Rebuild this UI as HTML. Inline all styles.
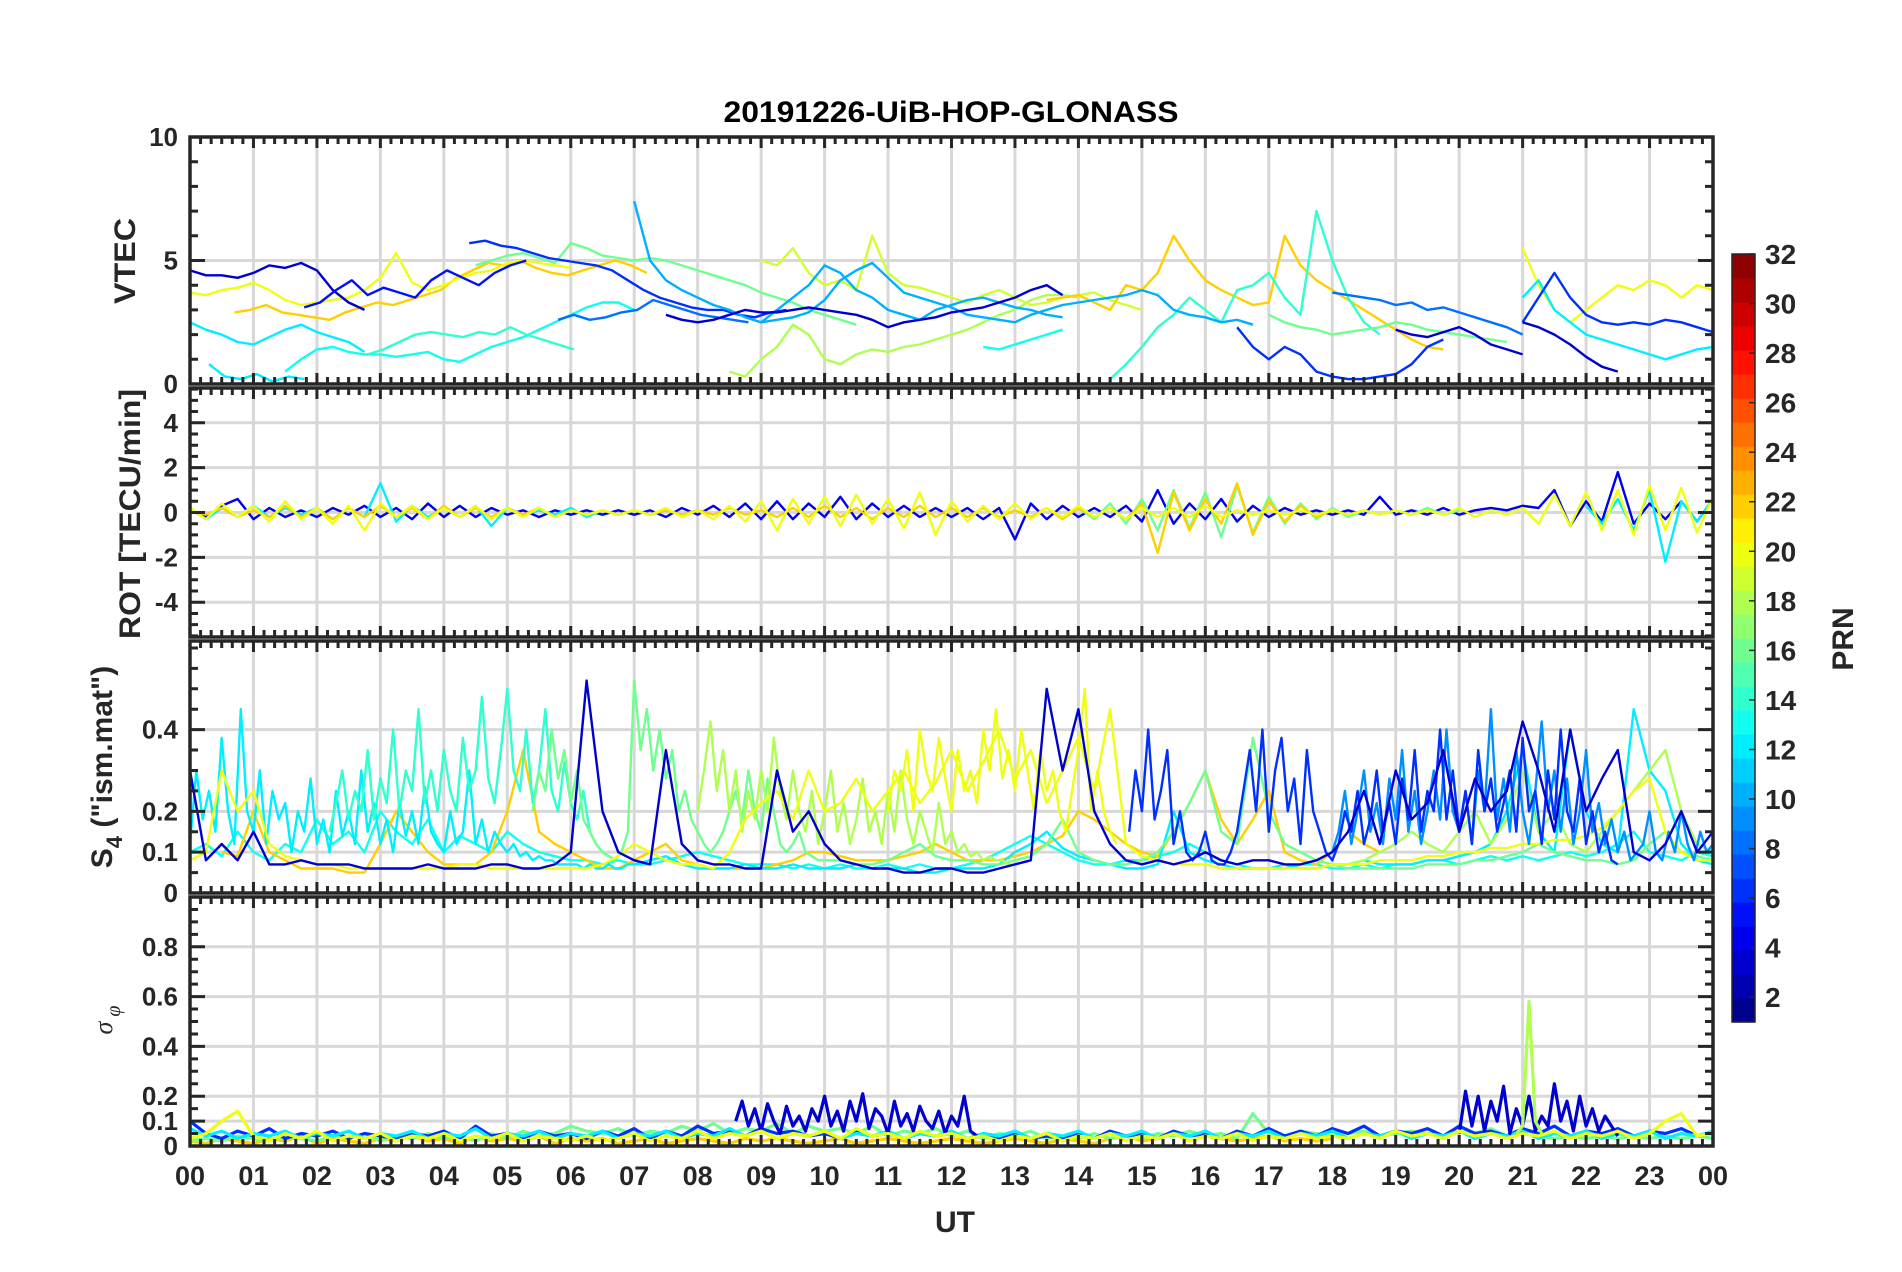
<!DOCTYPE html>
<html><head><meta charset="utf-8"><style>
html,body{margin:0;padding:0;background:#fff;}
svg{display:block;font-family:"Liberation Sans",Arial,sans-serif;}
</style></head><body>
<svg id="fig" width="1902" height="1272" viewBox="0 0 1902 1272" xmlns="http://www.w3.org/2000/svg">
<rect width="1902" height="1272" fill="#fff"/>
<text x="951" y="122" text-anchor="middle" font-size="30" font-weight="bold" fill="#000" textLength="455" lengthAdjust="spacingAndGlyphs">20191226-UiB-HOP-GLONASS</text>
<g id="grid"></g><g id="data"></g><g id="frames"></g><g id="labels"></g>
<text transform="translate(135,261) rotate(-90)" text-anchor="middle" font-size="30" font-weight="bold" fill="#262626" textLength="86" lengthAdjust="spacingAndGlyphs">VTEC</text>
<text transform="translate(140,514) rotate(-90)" text-anchor="middle" font-size="30" font-weight="bold" fill="#262626" textLength="250" lengthAdjust="spacingAndGlyphs">ROT [TECU/min]</text>
<text transform="translate(112,767) rotate(-90)" text-anchor="middle" font-size="30" font-weight="bold" fill="#262626">S<tspan font-size="22" dy="10">4</tspan><tspan dy="-10"> ("ism.mat")</tspan></text>
<text transform="translate(112,1020) rotate(-90)" text-anchor="middle" font-size="26" font-style="italic" fill="#262626" font-family="'Liberation Serif',serif">σ<tspan font-size="20" dy="8"> φ</tspan></text>
<text x="955" y="1232" text-anchor="middle" font-size="30" font-weight="bold" fill="#262626">UT</text>
<g id="cbar"></g>
<text transform="translate(1853,639) rotate(-90)" text-anchor="middle" font-size="30" font-weight="bold" fill="#262626">PRN</text>
</svg>
<script>
// ---------- data ----------
const hourTicks=[0,1,2,3,4,5,6,7,8,9,10,11,12,13,14,15,16,17,18,19,20,21,22,23,24];
const hourLabels=["00","01","02","03","04","05","06","07","08","09","10","11","12","13","14","15","16","17","18","19","20","21","22","23","00"];
const vtecTicks=[0,5,10];
const rotTicks=[-4,-2,0,2,4];
const s4Ticks=[0,0.1,0.2,0.4];
const sigTicks=[0,0.1,0.2,0.4,0.6,0.8];
const cbarTicks=[2,4,6,8,10,12,14,16,18,20,22,24,26,28,30,32];

// VTEC segments (step 0.25 h)
const vtecP3a=[4.6,4.4,4.4,4.3,4.5,4.8,4.7,4.9,4.6,3.8,3.3,3.0];
const vtecP5a=[3.1,3.3,3.8,4.2,3.6,3.9,3.7,3.5,4.2,4.6,4.3,4.0,4.5,4.8,5.0];
const vtecP6a=[5.7,5.8,5.6,5.5,5.3,5.1,5.0,4.9,4.8,4.6,4.2,3.8,3.5,3.3,3.1,3.0,3.0,2.8,2.7,2.9,3.0];
const vtecP3b=[2.8,2.6,2.5,2.6,2.8,3.0,2.9,2.9,3.0,3.1,3.0,2.9,2.8,2.6,2.3,2.5,2.6,2.7,2.9,3.0,3.1,3.3,3.5,3.8,4.0,3.6];
const vtecP10a=[7.4,5.0,4.2,3.8,3.5,3.2,3.0,2.7,2.5,2.6,2.7,2.9,3.4,4.2,4.6,4.9,4.3,3.7,3.5,3.3,3.1,2.8,2.7,2.6,2.5,2.8,3.0,3.2,3.3,3.4,3.5,3.6,3.8,3.6,3.0,2.8,2.7,2.5,2.6,2.4];
const vtecP8a=[2.6,2.8,2.6,2.7,2.9,3.0,3.4,3.2,3.0,2.8,2.7,2.6,2.5];
const vtecP12a=[2.5,2.2,2.0,1.7,1.6,1.9,2.2,2.4,2.1,1.9,1.7,1.3];
const vtecP12b=[0.8,0.3,0.2,0.4,0.1,0.3,0.2];
const vtecP13a=[0.5,1.0,1.4,1.5,1.3,1.2,1.2,1.1,1.2,1.3,1.0,0.9,1.2,1.5,1.7,1.9,2.2,2.5,2.8,3.1,3.3,3.3,3.0];
const vtecP14a=[1.2,1.4,1.7,2.0,2.1,2.0,1.9,2.1,2.0,2.3,2.0,1.8,1.6,1.4];
const vtecP16a=[4.8,5.0,5.2,5.3,5.1,4.9,5.7,5.5,5.2,5.1,5.0,5.1,5.0,4.8,4.6,4.4,4.2,4.0,3.7,3.5,3.3,3.0,2.8,2.6,2.4];
const vtecP18a=[0.5,0.3,1.0,1.5,2.4,2.0,1.0,0.8,1.2,1.4,1.3,1.5,1.6,1.8,2.0,2.2,2.5,2.8,3.0,3.4,3.6,3.6,3.5];
const vtecP20a=[3.7,3.6,3.8,3.9,4.1,3.8,3.4,3.2,3.3,3.4,3.5,3.8,4.3,5.3,4.1,3.8,4.0,4.3,4.5,4.6,4.9,5.0,4.9,4.8,4.7];
const vtecP22a=[2.9,3.0,3.2,2.9,2.8,2.7,2.6,2.9,3.1,3.3,3.2,3.4,3.6,3.8,4.3,4.6,4.9,4.8,5.0,4.7,4.5,4.4,4.6,4.8,5.0,4.8,4.5];
const vtecP19a=[5.0,4.8,5.5,4.5,4.0,4.2,3.8,6.0,4.5,4.0,3.9,3.7,3.5,3.3,3.6,3.8,3.5,3.2,3.3,3.5,3.6,3.7,3.4,3.2,3.0];
const vtecP22b=[3.4,3.5,3.6,3.3,3.0,4.0,3.8,4.5,6.0,5.0,4.2,3.8,3.5,3.2,3.3,6.0,4.8,4.2,3.8,3.4,3.0,2.6,2.2,1.8,1.5,1.4];
const vtecP14b=[0.2,0.8,1.5,2.3,2.8,3.5,3.0,2.5,3.8,4.0,4.5,3.5,2.8,7.0,5.0,3.5,2.5,2.0];
const vtecP6b=[2.3,1.5,1.0,1.5,1.2,0.5,0.3,0.2,0.2,0.3,0.4,0.8,1.5,1.8];
const vtecP8b=[3.7,3.6,3.5,3.4,3.2,3.3,3.0,3.1,2.9,2.7,2.5,2.3,2.0];
const vtecP16b=[2.8,2.5,2.3,2.2,2.0,2.1,2.2,2.3,2.5,2.4,2.2,2.1,2.0,1.9,1.8,1.7];
const vtecP20b=[5.5,4.0,3.0,2.5,3.0,3.5,4.0,3.8,4.2,4.0,3.5,4.0,3.8,4.5,3.5,4.0];
const vtecP6c=[2.5,3.5,4.5,3.5,2.8,2.5,2.4,2.5,2.4,2.6,2.5,2.3,2.1,2.0,1.8,1.5];
const vtecP12c=[3.5,4.2,3.0,2.5,2.0,1.8,1.6,1.4,1.2,1.0,1.2,1.4,1.5,1.6,1.8,2.0];
const vtecP10b=[2.5,3.0,3.5,4.0,4.8,4.5,3.8,3.5,3.0,2.8,2.6,3.0,3.2,3.4,3.5,3.3,3.1,3.0,2.8,2.7];
const vtecP13b=[1.5,1.4,1.6,1.8,2.0,2.2];
const vtecP3c=[2.2,2.0,1.9,2.1,2.3,2.0,1.6,1.4,1.2];
const vtecP3d=[2.5,2.3,2.0,1.6,1.1,0.7,0.5];
const vtecSeries=[
 {prn:12,t0:0,dt:0.25,v:vtecP12a},{prn:12,t0:0.3,dt:0.25,v:vtecP12b},{prn:13,t0:1.5,dt:0.25,v:vtecP13a},
 {prn:14,t0:2.8,dt:0.25,v:vtecP14a},{prn:22,t0:0.7,dt:0.25,v:vtecP22a},{prn:20,t0:0,dt:0.25,v:vtecP20a},
 {prn:16,t0:4.5,dt:0.25,v:vtecP16a},{prn:18,t0:8.5,dt:0.25,v:vtecP18a},{prn:19,t0:9,dt:0.25,v:vtecP19a},
 {prn:10,t0:9,dt:0.25,v:vtecP10b},{prn:13,t0:12.5,dt:0.25,v:vtecP13b},{prn:22,t0:13.5,dt:0.25,v:vtecP22b},
 {prn:14,t0:14.5,dt:0.25,v:vtecP14b},{prn:16,t0:17,dt:0.25,v:vtecP16b},{prn:8,t0:18,dt:0.25,v:vtecP8b},
 {prn:6,t0:16.5,dt:0.25,v:vtecP6b},{prn:20,t0:21,dt:0.25,v:vtecP20b},{prn:12,t0:21,dt:0.25,v:vtecP12c},
 {prn:6,t0:21,dt:0.25,v:vtecP6c},{prn:3,t0:0,dt:0.25,v:vtecP3a},{prn:5,t0:1.8,dt:0.25,v:vtecP5a},
 {prn:6,t0:4.4,dt:0.25,v:vtecP6a},{prn:8,t0:5.8,dt:0.25,v:vtecP8a},{prn:10,t0:7,dt:0.25,v:vtecP10a},
 {prn:3,t0:7.5,dt:0.25,v:vtecP3b},{prn:3,t0:19,dt:0.25,v:vtecP3c},{prn:3,t0:21,dt:0.25,v:vtecP3d}
];

// ROT (step 0.25 h)
const rotP20=[0.2,-0.3,0.4,-0.2,0.3,-0.4,0.5,-0.3,0.2,-0.5,0.3,-0.8,0.4,-0.2,0.3,-0.3,0.2,-0.2,0.3,-0.3,0.2,-0.2,0.2,-0.2,0.1,-0.1,0.1,-0.1,0.1,-0.1,0.2,-0.2,0.1,-0.3,0.3,-0.4,0.5,-0.8,0.6,-0.5,0.7,-0.6,0.8,-0.5,0.6,-0.7,0.9,-1.0,0.5,-0.4,0.3,-0.3,0.4,-0.3,0.2,-0.2,0.3,-0.2,0.2,-0.3,0.2,-0.2,0.2,-0.2,0.3,-0.2,0.1,-0.1,0.1,-0.1,0.1,-0.1,0.1,-0.1,0.1,-0.1,0.1,-0.1,0.1,-0.1,0.2,-0.2,0.1,-0.1,0.2,-0.5,0.8,-0.6,0.9,-0.8,1.0,-1.0,1.2,-0.8,1.1,-0.9,0.7,-0.3];
const rotP4=[0.1,-0.2,0.3,0.6,-0.3,0.2,-0.2,0.1,-0.2,0.2,-0.1,0.3,-0.2,0.2,-0.3,0.4,-0.2,0.3,-0.2,0.2,-0.1,0.1,-0.2,0.1,-0.1,0.1,-0.1,0.1,-0.1,0.1,-0.2,0.2,-0.1,0.3,-0.2,0.4,-0.3,0.5,-0.3,0.4,-0.2,0.7,-0.3,0.4,-0.2,0.3,-0.2,0.2,-0.2,0.2,-0.3,0.2,-1.2,0.4,-0.3,0.3,-0.2,0.2,-0.2,0.3,-0.4,1.0,-0.5,0.4,-0.3,0.6,-0.4,0.3,-0.2,0.2,-0.1,0.1,-0.1,0.1,-0.1,0.7,-0.1,0.1,-0.1,0.2,-0.1,0.1,0.2,0.1,0.3,0.2,1.0,-0.6,0.5,-0.4,1.8,-0.5,0.4,-0.3,0.5,-0.4,0.6,-0.2];
const rotP22=[0.1,-0.1,0.2,-0.2,0.1,-0.2,0.3,-0.2,0.2,-0.3,0.2,-0.2,0.3,-0.2,0.2,-0.3,0.3,-0.2,0.2,-0.2,0.2,-0.1,0.2,-0.2,0.1,-0.1,0.1,-0.1,0.1,-0.1,0.1,-0.1,0.1,-0.1,0.2,-0.1,0.1,-0.2,0.2,-0.2,0.3,-0.2,0.2,-0.3,0.2,-0.2,0.3,-0.2,0.2,-0.2,0.2,-0.2,0.1,-0.2,0.2,-0.3,0.2,-0.2,0.2,-0.3,0.4,-1.8,0.9,-0.8,0.6,-0.5,1.3,-1.0,0.5,-0.4,0.3,-0.2,0.1,-0.1];
const rotP16=[0.2,-0.3,0.4,-0.5,0.6,-0.8,1.0,-0.7,0.9,-1.1,1.2,-0.9,0.7,-0.5,0.4,-0.3,0.2,-0.2,0.1,-0.1,0.1,-0.1,0.2,-0.1,0.1];
const rotP12a=[0.2,-0.3,0.2,-0.2,0.3,-0.2,0.2,-0.1,0.2,-0.3,0.2,-0.2,1.3,-0.4,0.3,-0.2,0.2,-0.2,0.3,-0.6,0.2,-0.1,0.1,-0.1,0.2,-0.2,0.1,-0.1,0.1,-0.1,0.1,-0.1,0.1];
const rotP12b=[0.3,-0.5,0.6,-0.8,1.0,-2.2,0.5,-0.4,0.6];
const rotSeries=[
 {prn:4,t0:0,dt:0.25,v:rotP4},{prn:12,t0:0,dt:0.25,v:rotP12a},{prn:12,t0:22,dt:0.25,v:rotP12b},
 {prn:16,t0:14,dt:0.25,v:rotP16},{prn:22,t0:0,dt:0.25,v:rotP22},{prn:20,t0:0,dt:0.25,v:rotP20}
];

// S4
const s4P20a=[0.08,0.1,0.3,0.2,0.25,0.12,0.09,0.08,0.07,0.07,0.06,0.06,0.06,0.06,0.06,0.06,0.06,0.07,0.07,0.06,0.06,0.06,0.06,0.06,0.06,0.06,0.07,0.09,0.12,0.1,0.08,0.07,0.07,0.06,0.1,0.18,0.22,0.25,0.18,0.3,0.2,0.22,0.28,0.2,0.25,0.3,0.22,0.27,0.35,0.25,0.32,0.4,0.28,0.35,0.22,0.3,0.38,0.25,0.45,0.12,0.09,0.08,0.07,0.07,0.07,0.06,0.06,0.06,0.06,0.06,0.06,0.06,0.07,0.07,0.07,0.08,0.08,0.08,0.09,0.09,0.1,0.1,0.11,0.11,0.12,0.12,0.13,0.13,0.14,0.16,0.2,0.25,0.28,0.15,0.1,0.08,0.08,0.09];
const s4P22=[0.1,0.09,0.2,0.1,0.08,0.06,0.06,0.06,0.05,0.05,0.12,0.2,0.15,0.1,0.07,0.07,0.07,0.1,0.2,0.35,0.15,0.12,0.1,0.08,0.06,0.06,0.08,0.1,0.12,0.08,0.07,0.06,0.06,0.06,0.06,0.07,0.08,0.1,0.1,0.09,0.08,0.08,0.08,0.09,0.1,0.12,0.1,0.08,0.08,0.08,0.09,0.1,0.12,0.14,0.2,0.18,0.15,0.12,0.1,0.09,0.15,0.22,0.3,0.18,0.12,0.18,0.25,0.1,0.08,0.07,0.1,0.15,0.12,0.1];
const s4P12a=[0.12,0.3,0.18,0.25,0.15,0.38,0.2,0.12,0.45,0.2,0.15,0.3,0.12,0.25,0.18,0.22,0.1,0.2,0.15,0.28,0.12,0.18,0.1,0.25,0.14,0.2,0.12,0.3,0.15,0.22,0.12,0.18,0.1,0.22,0.14,0.2,0.12,0.26,0.15,0.12,0.1,0.2,0.12,0.15,0.3,0.12,0.18,0.1,0.15,0.12,0.1,0.12,0.09,0.1,0.08,0.09,0.08,0.08,0.07,0.07,0.07,0.07,0.06,0.07,0.06,0.06,0.07,0.06,0.06,0.07,0.07];
const s4P12b=[0.07,0.08,0.09,0.07,0.06,0.06,0.06,0.07,0.06,0.06,0.07,0.06,0.06,0.06,0.07,0.06,0.06,0.06,0.05,0.05,0.06,0.06,0.06,0.07,0.1,0.12,0.15,0.11,0.09,0.08,0.07,0.06,0.06,0.07,0.2,0.1,0.08,0.07,0.06,0.06,0.06,0.07,0.06,0.06,0.07,0.07,0.08,0.07,0.07,0.07,0.08,0.08,0.09,0.1,0.12,0.2,0.35,0.15,0.1,0.4,0.2,0.12,0.1,0.45,0.3,0.25,0.12,0.08,0.07];
const s4P13=[0.1,0.12,0.09,0.15,0.1,0.08,0.12,0.1,0.18,0.12,0.15,0.1,0.2,0.15,0.12,0.18,0.1,0.14,0.12,0.1,0.15,0.12,0.1,0.09,0.08,0.08,0.07,0.08,0.07,0.07,0.08,0.09,0.1,0.09,0.08,0.07,0.07,0.07,0.06,0.07,0.06,0.07,0.06,0.06,0.07,0.06,0.07,0.06,0.06,0.07,0.08,0.1,0.12,0.14,0.12,0.1,0.08,0.07,0.07,0.08,0.08,0.09,0.1,0.12,0.1,0.08,0.07,0.06,0.06,0.06,0.07,0.07,0.06,0.06,0.07,0.06,0.07,0.07,0.08,0.08,0.07,0.08,0.09,0.08,0.09,0.08,0.09,0.1,0.09,0.1,0.12,0.15,0.1,0.09,0.08,0.1,0.09,0.08];
const s4P14=[0.15,0.22,0.3,0.18,0.25,0.2,0.35,0.18,0.28,0.22,0.4,0.2,0.3,0.25,0.45,0.22,0.3,0.2,0.35,0.25,0.2,0.38,0.25,0.3,0.48,0.28,0.22,0.35,0.5,0.3,0.25,0.4,0.22,0.3,0.45,0.25,0.2,0.32,0.22,0.18,0.25,0.15,0.12,0.1,0.09];
const s4P16a=[0.2,0.3,0.25,0.4,0.28,0.35,0.22,0.3,0.18,0.15,0.12,0.1,0.09,0.08,0.1,0.15,0.52,0.35,0.45,0.3,0.4,0.28,0.35,0.2,0.25,0.18,0.15,0.12,0.1,0.12,0.15,0.2,0.25,0.18,0.3,0.2,0.15,0.28,0.2,0.12,0.1,0.12,0.15,0.1,0.09,0.08,0.08];
const s4P16b=[0.08,0.08,0.07,0.07,0.08,0.1,0.12,0.09,0.08,0.08,0.07,0.07,0.08,0.09,0.12,0.18,0.1,0.08,0.07,0.07,0.08,0.1,0.15,0.22,0.3,0.15,0.12,0.38,0.2,0.12,0.1,0.08,0.07,0.06,0.06,0.06,0.06,0.06,0.07,0.07,0.07,0.08,0.08,0.09,0.1,0.12,0.1,0.09,0.08,0.08,0.07,0.08,0.12,0.15,0.1,0.09,0.08];
const s4P18a=[0.2,0.3,0.42,0.25,0.35,0.2,0.3,0.15,0.25,0.18,0.3,0.2,0.38,0.25,0.18,0.3,0.2,0.15,0.25,0.12,0.2,0.3,0.15,0.22,0.12,0.18,0.28,0.15,0.2,0.12,0.25,0.15,0.3,0.18,0.12,0.2,0.15,0.1,0.22,0.12,0.15,0.1,0.12,0.09,0.1,0.08,0.09,0.08,0.08,0.07,0.07];
const s4P18b=[0.07,0.07,0.08,0.1,0.12,0.15,0.12,0.1,0.15,0.2,0.12,0.18,0.3,0.15,0.2,0.12,0.1,0.15,0.2,0.25,0.3,0.35,0.2,0.12,0.1];
const s4P20b=[0.2,0.3,0.25,0.35,0.2,0.4,0.3,0.25,0.38,0.28,0.2,0.35,0.25,0.3,0.22,0.4,0.3,0.45,0.28,0.35,0.25,0.4,0.3,0.2,0.35,0.25,0.3,0.2,0.15,0.25,0.35,0.5,0.2,0.3,0.2,0.15,0.12];
const s4P3=[0.3,0.08,0.12,0.08,0.15,0.07,0.07,0.08,0.07,0.07,0.07,0.06,0.06,0.06,0.06,0.07,0.06,0.06,0.06,0.07,0.07,0.06,0.06,0.07,0.1,0.52,0.2,0.1,0.08,0.07,0.35,0.12,0.08,0.07,0.07,0.06,0.06,0.3,0.15,0.2,0.12,0.08,0.07,0.06,0.06,0.05,0.05,0.06,0.06,0.05,0.05,0.06,0.07,0.08,0.5,0.3,0.45,0.2,0.12,0.08,0.07,0.08,0.07,0.08,0.1,0.08,0.07,0.08,0.08,0.07,0.07,0.08,0.1,0.15,0.25,0.12,0.3,0.18,0.22,0.35,0.15,0.28,0.2,0.25,0.42,0.3,0.15,0.4,0.2,0.28,0.35,0.1,0.08,0.12,0.2,0.1,0.15,0.12];
const s4P6=[0.15,0.3,0.2,0.4,0.18,0.25,0.35,0.12,0.2,0.1,0.08,0.1,0.15,0.08,0.07,0.07,0.1,0.15,0.25,0.35,0.2,0.4,0.15,0.3,0.38,0.2,0.28,0.12,0.35,0.2,0.15,0.1,0.08,0.12,0.2,0.15,0.25,0.12,0.18,0.3,0.15,0.22,0.12,0.28,0.18,0.35,0.15,0.25,0.2,0.4,0.18,0.3,0.15,0.25,0.12,0.35,0.2,0.28,0.15,0.22,0.3,0.15,0.38,0.2,0.25,0.12,0.3,0.18,0.4,0.2,0.15,0.28,0.12,0.2,0.1,0.15,0.08,0.07];
const s4P9=[0.1,0.15,0.25,0.12,0.2,0.3,0.15,0.22,0.12,0.28,0.18,0.35,0.15,0.25,0.12,0.2,0.3,0.18,0.4,0.2,0.15,0.25,0.12,0.3,0.2,0.45,0.18,0.28,0.15,0.35,0.2,0.12,0.25,0.42,0.2,0.3,0.15,0.28,0.12,0.2,0.35,0.15,0.22,0.12,0.18,0.1,0.15,0.08,0.1,0.12,0.2,0.1,0.08,0.15,0.1,0.2,0.12,0.08,0.15,0.1,0.12];
const s4Series=[
 {prn:13,t0:0,dt:0.25,v:s4P13},
 {prn:22,t0:0.5,dt:0.25,v:s4P22},{prn:12,t0:0,dt:0.1,v:s4P12a},{prn:12,t0:7,dt:0.25,v:s4P12b},
 {prn:14,t0:2.2,dt:0.1,v:s4P14},{prn:16,t0:5.4,dt:0.1,v:s4P16a},{prn:16,t0:10,dt:0.25,v:s4P16b},
 {prn:18,t0:8,dt:0.1,v:s4P18a},{prn:18,t0:18,dt:0.25,v:s4P18b},{prn:20,t0:0,dt:0.25,v:s4P20a},
 {prn:20,t0:11,dt:0.1,v:s4P20b},{prn:9,t0:18,dt:0.1,v:s4P9},{prn:6,t0:14.8,dt:0.1,v:s4P6},
 {prn:3,t0:0,dt:0.25,v:s4P3}
];

// sigma phi
const sigP20=[0.03,0.05,0.1,0.14,0.04,0.02,0.05,0.03,0.06,0.02,0.04,0.03,0.05,0.02,0.04,0.03,0.05,0.02,0.04,0.03,0.05,0.02,0.04,0.03,0.02,0.04,0.02,0.03,0.05,0.02,0.04,0.03,0.06,0.03,0.05,0.04,0.06,0.03,0.05,0.04,0.06,0.03,0.07,0.04,0.05,0.03,0.06,0.04,0.05,0.03,0.04,0.02,0.04,0.03,0.05,0.02,0.04,0.03,0.05,0.02,0.04,0.03,0.05,0.02,0.04,0.03,0.05,0.02,0.04,0.03,0.05,0.03,0.04,0.03,0.05,0.03,0.06,0.04,0.05,0.03,0.06,0.04,0.05,0.03,0.05,0.04,0.06,0.03,0.05,0.04,0.06,0.03,0.05,0.1,0.13,0.04,0.05,0.03];
const sigP12=[0.07,0.04,0.06,0.03,0.05,0.04,0.06,0.03,0.05,0.04,0.06,0.03,0.05,0.04,0.06,0.03,0.05,0.04,0.07,0.03,0.05,0.04,0.06,0.03,0.05,0.04,0.06,0.03,0.05,0.04,0.06,0.03,0.05,0.04,0.07,0.04,0.06,0.03,0.05,0.04,0.06,0.03,0.05,0.04,0.06,0.03,0.05,0.04,0.06,0.03,0.05,0.04,0.06,0.03,0.05,0.04,0.06,0.03,0.05,0.04,0.06,0.03,0.05,0.04,0.06,0.03,0.05,0.04,0.06,0.03,0.05,0.04,0.06,0.03,0.05,0.04,0.06,0.03,0.05,0.04,0.06,0.03,0.05,0.04,0.06,0.03,0.05,0.04,0.06,0.03,0.05,0.04,0.06,0.03,0.05,0.04,0.06];
const sigP6=[0.1,0.05,0.03,0.06,0.04,0.07,0.03,0.05,0.04,0.06,0.03,0.05,0.04,0.03,0.05,0.04,0.06,0.03,0.08,0.04,0.05,0.03,0.06,0.04,0.05,0.03,0.06,0.04,0.07,0.03,0.06,0.04,0.08,0.05,0.06,0.04,0.07,0.05,0.06,0.04,0.05,0.03,0.06,0.04,0.05,0.03,0.05,0.04,0.05,0.03,0.04,0.03,0.05,0.03,0.04,0.03,0.05,0.03,0.06,0.04,0.05,0.03,0.06,0.04,0.05,0.03,0.06,0.04,0.07,0.04,0.06,0.04,0.07,0.05,0.08,0.04,0.06,0.05,0.07,0.04,0.08,0.05,0.06,0.04,0.07,0.05,0.08,0.04,0.06,0.05,0.07,0.04,0.06,0.05,0.07,0.04,0.05];
const sigP16=[0.02,0.03,0.02,0.04,0.03,0.02,0.04,0.03,0.02,0.04,0.03,0.05,0.02,0.04,0.03,0.05,0.03,0.04,0.02,0.05,0.03,0.06,0.04,0.05,0.08,0.06,0.05,0.07,0.04,0.06,0.05,0.08,0.06,0.09,0.05,0.07,0.06,0.09,0.05,0.08,0.06,0.07,0.05,0.08,0.04,0.06,0.05,0.07,0.04,0.06,0.03,0.05,0.04,0.06,0.03,0.04,0.03,0.05,0.03,0.04,0.03,0.05,0.04,0.06,0.04,0.05,0.03,0.13,0.05,0.04,0.06,0.05,0.04,0.05,0.06,0.04,0.05,0.06,0.05,0.04,0.06,0.05,0.07,0.04,0.05,0.04,0.03,0.04,0.03,0.04,0.03,0.04,0.03,0.04,0.03,0.04,0.03];
const sigP22=[0.02,0.01,0.03,0.02,0.01,0.03,0.02,0.04,0.01,0.03,0.02,0.01,0.03,0.02,0.04,0.02,0.03,0.01,0.04,0.02,0.03,0.02,0.04,0.01,0.03,0.02,0.03,0.01,0.02,0.03,0.01,0.02,0.03,0.02,0.01,0.03,0.02,0.03,0.02,0.01,0.02,0.03,0.01,0.02,0.03,0.02,0.01,0.02,0.03,0.02,0.01,0.02,0.03,0.02,0.01,0.03,0.02,0.01,0.03,0.04,0.02,0.03,0.05,0.02,0.04,0.03,0.02,0.03,0.04,0.02,0.03,0.02,0.03];
const sigP3a=[0.1,0.18,0.08,0.15,0.06,0.17,0.1,0.05,0.16,0.08,0.12,0.06,0.15,0.1,0.2,0.08,0.14,0.06,0.18,0.1,0.21,0.07,0.15,0.12,0.05,0.18,0.08,0.13,0.06,0.16,0.1,0.07,0.14,0.05,0.12,0.08,0.2,0.06,0.04];
const sigP3b=[0.05,0.22,0.08,0.2,0.06,0.18,0.1,0.24,0.05,0.15,0.08,0.2,0.06,0.12,0.08,0.25,0.1,0.18,0.06,0.2,0.08,0.15,0.06,0.12,0.08,0.04];
const sigP18=[0.05,0.08,0.58,0.1,0.05];
const sigSeries=[
 {prn:22,t0:0,dt:0.25,v:sigP22},{prn:16,t0:0,dt:0.25,v:sigP16},{prn:6,t0:0,dt:0.25,v:sigP6},
 {prn:12,t0:0,dt:0.25,v:sigP12},{prn:3,t0:8.6,dt:0.1,v:sigP3a},{prn:3,t0:20,dt:0.1,v:sigP3b},
 {prn:20,t0:0,dt:0.25,v:sigP20},{prn:18,t0:20.9,dt:0.1,v:sigP18}
];

// ---------- layout ----------
const NS="http://www.w3.org/2000/svg";
const XL=190, XR=1713;
const panels=[
 {name:'vtec',top:137,bot:384,min:0,max:10,ticks:vtecTicks,minor:1,series:vtecSeries,sw:2.4},
 {name:'rot',top:388,bot:637,min:-5.55,max:5.55,ticks:rotTicks,minor:0.5,series:rotSeries,sw:2.4},
 {name:'s4',top:641,bot:893,min:0,max:0.617,ticks:s4Ticks,minor:0.05,series:s4Series,sw:2.4},
 {name:'sigma',top:897,bot:1146,min:0,max:1,ticks:sigTicks,minor:0.05,series:sigSeries,sw:3.2}
];
function xs(t){return XL+(t/24)*(XR-XL);}
function ysFor(p){return v=>p.bot-(v-p.min)/(p.max-p.min)*(p.bot-p.top);}
function jet(i,n){const x=(i+0.5)/n;const c=f=>Math.round(255*Math.max(0,Math.min(1,f)));
 return `rgb(${c(1.5-Math.abs(4*x-3))},${c(1.5-Math.abs(4*x-2))},${c(1.5-Math.abs(4*x-1))})`;}
function prnColor(p){return jet(p-1,32);}
function mk(tag,attrs,parent){const e=document.createElementNS(NS,tag);for(const k in attrs)e.setAttribute(k,attrs[k]);parent.appendChild(e);return e;}
const gGrid=document.getElementById('grid'),gData=document.getElementById('data'),gFr=document.getElementById('frames'),gLab=document.getElementById('labels');
const FR='#262626';

panels.forEach(p=>{
 const y=ysFor(p);
 const grp=mk('g',{},gGrid);
 
 
 hourTicks.forEach(h=>{if(h>0&&h<24){mk('line',{x1:xs(h),x2:xs(h),y1:p.top,y2:p.bot,stroke:'#d8d8d8','stroke-width':3},grp);}});
 p.ticks.forEach(v=>{const yy=y(v);if(yy>p.top+2&&yy<p.bot-2)mk('line',{x1:XL,x2:XR,y1:yy,y2:yy,stroke:'#d8d8d8','stroke-width':3},grp);});
 const dg=mk('g',{},gData);
 
 
 p.series.forEach(s=>{
  const pts=s.v.map((v,i)=>xs(Math.min(24,s.t0+i*s.dt)).toFixed(1)+','+y(Math.max(p.min,Math.min(p.max,v))).toFixed(1)).join(' ');
  const pl=mk('polyline',{points:pts,fill:'none',stroke:prnColor(s.prn),'stroke-width':p.sw,'stroke-linejoin':'round'},dg);
  
  
 });
 const fg=mk('g',{},gFr);
 
 
 let d='';
 for(let m=0;m<=24*6;m++){const x=xs(m/6);const L=(m%6===0)?11:7;d+=`M${x},${p.top}v${L}M${x},${p.bot}v${-L}`;}
 const first=Math.ceil(p.min/p.minor-1e-6),last=Math.floor(p.max/p.minor+1e-6);
 for(let k=first;k<=last;k++){const v=k*p.minor;const yy=y(v);const major=p.ticks.some(t=>Math.abs(t-v)<1e-6);const L=major?15:8;d+=`M${XL},${yy}h${L}M${XR},${yy}h${-L}`;}
 mk('path',{d:d,stroke:FR,'stroke-width':3,fill:'none'},fg);
 mk('rect',{x:XL,y:p.top,width:XR-XL,height:p.bot-p.top,fill:'none',stroke:FR,'stroke-width':3.5},fg);
 p.ticks.forEach(v=>{const t=mk('text',{x:178,y:y(v)+9,'text-anchor':'end','font-size':26,'font-weight':'bold',fill:FR},gLab);t.textContent=String(v);
  
  });
});
hourTicks.forEach((h,i)=>{const t=mk('text',{x:xs(h),y:1185,'text-anchor':'middle','font-size':27,'font-weight':'bold',fill:FR},gLab);t.textContent=hourLabels[i];
 
 });

const cb=document.getElementById('cbar');
const CX=1732,CW=23,CT=254,CB=1022;
const cy=v=>CB-(v-1)/31*(CB-CT);
for(let i=0;i<32;i++){const y0=CB-(i+1)*(CB-CT)/32,y1=CB-i*(CB-CT)/32;
 const r=mk('rect',{x:CX,y:y0,width:CW,height:y1-y0+0.6,fill:jet(i,32)},cb);
 
 }
mk('rect',{x:CX,y:CT,width:CW,height:CB-CT,fill:'none',stroke:FR,'stroke-width':1.5},cb);
cbarTicks.forEach(v=>{const yy=cy(v);mk('line',{x1:CX+CW-6,x2:CX+CW,y1:yy,y2:yy,stroke:FR,'stroke-width':1.5},cb);
 const t=mk('text',{x:1765,y:yy+10,'font-size':28,'font-weight':'bold',fill:FR},cb);t.textContent=String(v);
 
 });
</script>
</body></html>
